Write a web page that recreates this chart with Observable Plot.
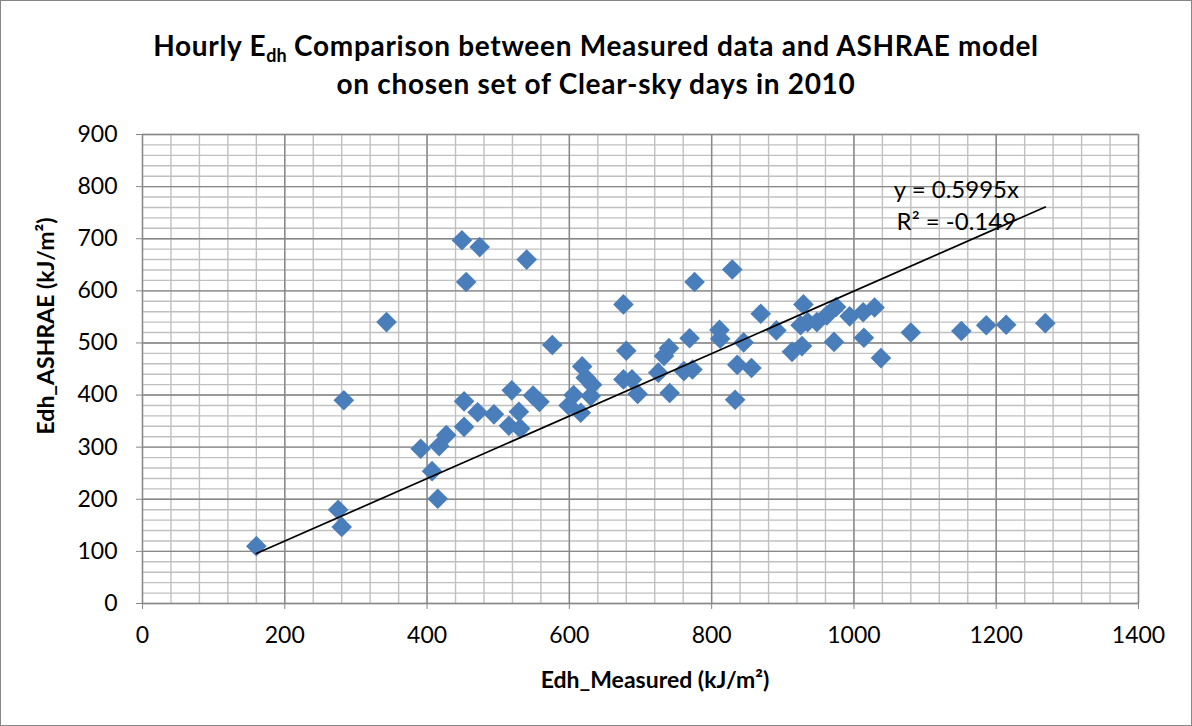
<!DOCTYPE html>
<html>
<head>
<meta charset="utf-8">
<script src="https://cdn.jsdelivr.net/npm/d3@7"></script>
<script src="https://cdn.jsdelivr.net/npm/@observablehq/plot@0.6"></script>
<style>
  html, body { margin: 0; padding: 0; background: #fff; }
  #wrap { position: relative; width: 1192px; height: 726px; background: #fff; font-family: Lato, "Open Sans", sans-serif; overflow: hidden; }
  #frame { position: absolute; left: 0; top: 0; width: 1190px; height: 724px; border: 1px solid #868686; pointer-events: none; }
  #title { position: absolute; left: 0; top: 26px; width: 1192px; text-align: center; font-weight: bold; font-size: 28px; letter-spacing: 0.7px; line-height: 38px; color: #000; }
  #title sub { font-size: 18px; vertical-align: -6px; line-height: 0; letter-spacing: 0; }
  #chart { position: absolute; left: 0; top: 110px; }
  .axlabel { position: absolute; font-weight: bold; font-size: 23px; color: #000; white-space: nowrap; }
  #xlabel { left: 0; width: 1192px; text-align: center; top: 665px; padding-left: 118px; box-sizing: border-box; }
  #ylabel { left: 45px; top: 326px; transform: translate(-50%, -50%) rotate(-90deg); }
</style>
</head>
<body>
<div id="wrap">
  <div id="title">Hourly E<sub>dh</sub> Comparison between Measured data and ASHRAE model<br>on chosen set of Clear-sky days in 2010</div>
  <div id="chart"></div>
  <div id="xlabel" class="axlabel">Edh_Measured (kJ/m²)</div>
  <div id="ylabel" class="axlabel">Edh_ASHRAE (kJ/m²)</div>
  <div id="frame"></div>
</div>
<script>
// Measured hourly Edh (kJ/m²)
const edhMeasured = [160, 275, 280, 283, 343, 391, 407, 415, 417, 427,
  449, 455, 452, 452, 474, 471, 494, 519, 515, 529,
  531, 540, 549, 558, 576, 599, 606, 616, 618, 623,
  632, 630, 676, 676, 680, 688, 696, 725, 733, 740,
  741, 761, 773, 769, 776, 811, 812, 829, 833, 836,
  845, 856, 869, 891, 913, 925, 929, 927, 935, 948,
  962, 975, 972, 994, 1013, 1029, 1014, 1038, 1080, 1151,
  1186, 1214, 1269];
// ASHRAE model hourly Edh (kJ/m²)
const edhAshrae = [110, 180, 147, 390, 540, 297, 254, 201, 302, 323,
  697, 617, 388, 339, 684, 367, 363, 409, 341, 368,
  336, 660, 399, 387, 496, 380, 400, 366, 455, 433,
  420, 398, 574, 430, 485, 430, 402, 443, 475, 490,
  404, 446, 449, 509, 617, 525, 508, 641, 391, 458,
  501, 452, 556, 524, 483, 534, 574, 494, 540, 540,
  553, 569, 502, 551, 559, 568, 510, 471, 520, 523,
  534, 535, 538];
// Linear trendline through origin
const trendSlope = 0.5995;
const trendR2 = -0.149;
const equationLines = ["y = 0.5995x", "R² = -0.149"];
const equationPos = [{x: 1144, y: 793}, {x: 1144, y: 732}];

const xTicks = [0, 200, 400, 600, 800, 1000, 1200, 1400];
const yTicks = [0, 100, 200, 300, 400, 500, 600, 700, 800, 900];
const xMinor = d3.range(0, 1401, 40);
const yMinor = d3.range(0, 901, 20);

const points = edhMeasured.map((x, i) => ({x, y: edhAshrae[i]}));
const [xMin, xMax] = d3.extent(edhMeasured);
const trend = [xMin, xMax].map(x => ({x, y: trendSlope * x}));
const labels = equationLines.map((t, i) => ({t, ...equationPos[i]}));

const chart = Plot.plot({
  width: 1192,
  height: 616,
  marginLeft: 142,
  marginRight: 54,
  marginTop: 24,
  marginBottom: 123,
  style: {fontFamily: "Lato, 'Open Sans', sans-serif", fontSize: "23px", color: "#000", background: "transparent"},
  x: {domain: [0, 1400]},
  y: {domain: [0, 900]},
  marks: [
    Plot.ruleX(xMinor, {stroke: "#c0c0c0", strokeWidth: 1.4}),
    Plot.ruleY(yMinor, {stroke: "#c0c0c0", strokeWidth: 1.4}),
    Plot.ruleX(xTicks, {stroke: "#888888", strokeWidth: 1.4}),
    Plot.ruleY(yTicks, {stroke: "#888888", strokeWidth: 1.4}),
    Plot.axisX({ticks: xTicks, tickSize: 6, tickPadding: 17, stroke: "#888888", fill: "#000", fontSize: 23, label: null, tickFormat: d => String(d)}),
    Plot.axisY({ticks: yTicks, tickSize: 6, tickPadding: 19, stroke: "#888888", fill: "#000", fontSize: 23, label: null, tickFormat: d => String(d)}),
    Plot.dot(points, {x: "x", y: "y", symbol: "diamond2", r: 9.3, fill: "#4a7ebb", stroke: "none"}),
    Plot.line(trend, {x: "x", y: "y", stroke: "#000", strokeWidth: 1.7}),
    Plot.text(labels, {x: "x", y: "y", text: "t", fontSize: 24, fill: "#000"})
  ]
});
document.getElementById("chart").appendChild(chart);
</script>
</body>
</html>
